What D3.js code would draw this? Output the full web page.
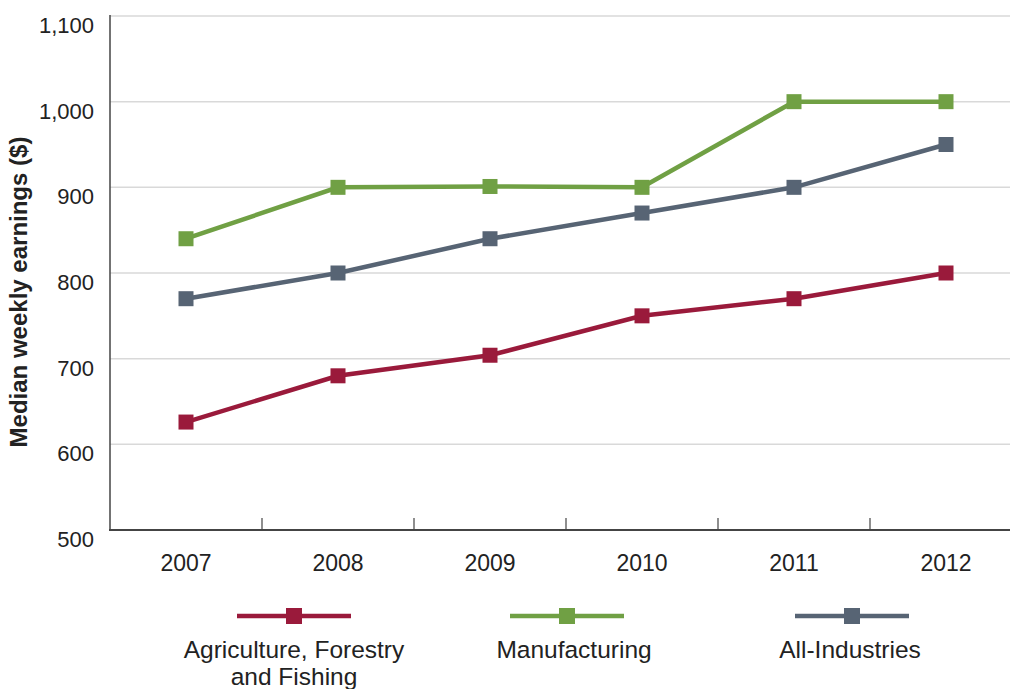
<!DOCTYPE html>
<html>
<head>
<meta charset="utf-8" />
<title>Median weekly earnings</title>
<script type="text/javascript" src="https://d3js.org/d3.v7.min.js"></script>
<style type="text/css">
    body { margin: 0; background: #fff; }
    text { font-family: "Liberation Sans", Arial, sans-serif; fill: #222; }
</style>
</head>
<body>
<svg width="1010" height="689"></svg>
<script>
    var years = ["2007", "2008", "2009", "2010", "2011", "2012"];
    var seriesNames = ["Agriculture, Forestry|and Fishing", "Manufacturing", "All-Industries"];
    var agriculture = [626, 680, 704, 750, 770, 800];
    var manufacturing = [840, 900, 901, 900, 1000, 1000];
    var allIndustries = [770, 800, 840, 870, 900, 950];
    var yTicks = [500, 600, 700, 800, 900, 1000, 1100];
    var colors = ["#9a1a3b", "#70a044", "#576474"];

    var series = [agriculture, manufacturing, allIndustries];

    var svg = d3.select("svg");

    // scales
    var x = d3.scaleBand().domain(years).range([110, 1022]);
    var y = d3.scaleLinear().domain([500, 1100]).range([530, 16]);

    // grid lines
    svg.append("g").selectAll("line")
        .data(yTicks.slice(1))
        .enter().append("line")
        .attr("x1", 110).attr("x2", 1010)
        .attr("y1", d => y(d)).attr("y2", d => y(d))
        .attr("stroke", "#d9d9d9").attr("stroke-width", 1.5);

    // y tick labels
    svg.append("g").selectAll("text")
        .data(yTicks)
        .enter().append("text")
        .attr("x", 94)
        .attr("y", d => y(d) + 17)
        .attr("text-anchor", "end")
        .attr("font-size", "22px")
        .text(d3.format(","));

    // y axis line
    svg.append("line")
        .attr("x1", 110).attr("x2", 110)
        .attr("y1", 15).attr("y2", 531)
        .attr("stroke", "#444").attr("stroke-width", 1.5);

    // x axis line + ticks between categories
    svg.append("line")
        .attr("x1", 109).attr("x2", 1010)
        .attr("y1", 530).attr("y2", 530)
        .attr("stroke", "#444").attr("stroke-width", 2);

    svg.append("g").selectAll("line")
        .data(years.slice(1))
        .enter().append("line")
        .attr("x1", d => x(d)).attr("x2", d => x(d))
        .attr("y1", 518).attr("y2", 530)
        .attr("stroke", "#444").attr("stroke-width", 1.2);

    svg.append("g").selectAll("text")
        .data(years)
        .enter().append("text")
        .attr("x", d => x(d) + x.bandwidth() / 2)
        .attr("y", 571)
        .attr("text-anchor", "middle")
        .attr("font-size", "23px")
        .text(d => d);

    // y axis title
    svg.append("text")
        .attr("transform", "translate(27,292) rotate(-90)")
        .attr("text-anchor", "middle")
        .attr("font-size", "24px")
        .attr("font-weight", "bold")
        .text("Median weekly earnings ($)");

    // lines and markers
    var line = d3.line()
        .x((d, i) => x(years[i]) + x.bandwidth() / 2)
        .y(d => y(d));

    series.forEach(function(vals, s) {
        svg.append("path")
            .datum(vals)
            .attr("fill", "none")
            .attr("stroke", colors[s])
            .attr("stroke-width", 4.5)
            .attr("d", line);

        svg.append("g").selectAll("rect")
            .data(vals)
            .enter().append("rect")
            .attr("x", (d, i) => x(years[i]) + x.bandwidth() / 2 - 7.5)
            .attr("y", d => y(d) - 7.5)
            .attr("width", 15).attr("height", 15)
            .attr("fill", colors[s]);
    });

    // legend
    var legendX = [294, 567, 852];
    var legendTextX = [0, 7, -2];
    var legend = svg.append("g").selectAll("g")
        .data(seriesNames)
        .enter().append("g")
        .attr("transform", (d, i) => "translate(" + legendX[i] + ",616)");

    legend.append("line")
        .attr("x1", -57).attr("x2", 57)
        .attr("stroke", (d, i) => colors[i])
        .attr("stroke-width", 4.5);

    legend.append("rect")
        .attr("x", -8).attr("y", -8)
        .attr("width", 16).attr("height", 16)
        .attr("fill", (d, i) => colors[i]);

    legend.each(function(d, i) {
        var t = d3.select(this).append("text")
            .attr("text-anchor", "middle")
            .attr("font-size", "24.5px");
        d.split("|").forEach(function(part, j) {
            t.append("tspan")
                .attr("x", legendTextX[i])
                .attr("y", 42 + j * 27)
                .text(part);
        });
    });
</script>
</body>
</html>
